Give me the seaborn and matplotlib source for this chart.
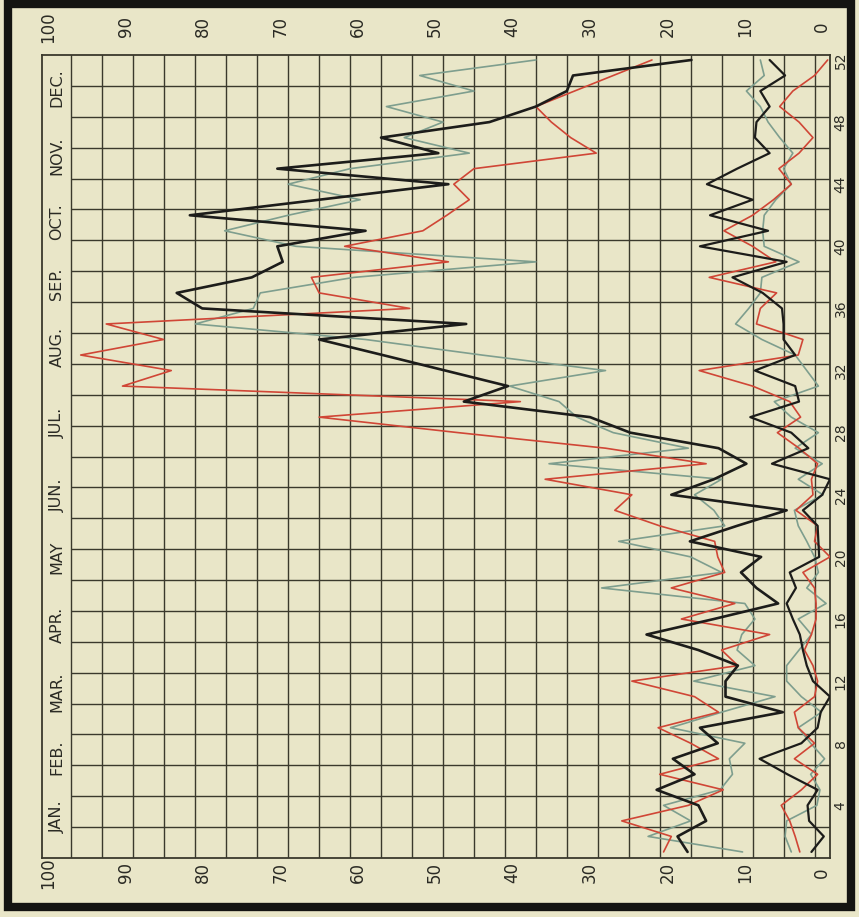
import matplotlib
matplotlib.use("Agg")
import matplotlib.pyplot as plt
import matplotlib.transforms as mtransforms
from matplotlib.patches import Rectangle
import seaborn as sns
import pandas as pd

# ---------------- data ----------------
weeks = list(range(1, 53))

upper_black = [18.4, 19.7, 16.0, 17.0, 22.4, 17.5, 20.3, 14.5, 16.8, 6.1,
               13.5, 13.5, 11.9, 17.0, 23.7, 15.0, 6.7, 9.5, 11.5, 8.9,
               18.1, 12.0, 5.6, 20.5, 15.0, 10.8, 14.4, 25.8, 31.0, 47.3,
               41.6, 49.7, 57.8, 66.0, 47.0, 81.1, 84.4, 74.7, 70.7, 71.4,
               60.0, 82.7, 66.0, 49.3, 71.4, 50.6, 58.0, 44.0, 38.0, 34.0,
               33.2, 17.9]
upper_red = [21.5, 20.5, 26.9, 18.3, 13.8, 22.0, 14.4, 18.0, 22.2, 14.4,
             17.5, 25.6, 11.9, 14.0, 7.8, 19.2, 12.3, 20.5, 13.6, 14.5,
             14.9, 22.0, 27.8, 25.6, 36.8, 16.0, 29.0, 48.0, 66.0, 40.0,
             91.4, 85.1, 96.8, 86.1, 93.5, 54.3, 66.0, 67.0, 49.3, 62.7,
             52.6, 49.5, 46.6, 48.6, 46.0, 30.2, 33.5, 36.0, 38.0, 33.0,
             28.0, 23.0]
upper_green = [11.3, 23.5, 18.0, 21.5, 14.2, 12.6, 13.0, 11.0, 20.6, 14.0,
               7.1, 17.6, 9.7, 12.0, 11.4, 9.7, 11.0, 29.5, 14.0, 18.0,
               27.3, 13.6, 15.0, 17.5, 14.0, 36.3, 18.3, 28.0, 32.7, 35.0,
               41.4, 29.0, 45.0, 60.0, 82.0, 74.5, 73.6, 61.5, 38.0, 69.0,
               78.2, 70.0, 60.7, 70.0, 62.0, 46.6, 55.0, 50.0, 57.3, 46.0,
               53.0, 38.0]
lower_black = [2.4, 0.8, 2.7, 2.9, 1.6, 5.5, 9.1, 3.7, 1.6, 1.2,
               0.0, 2.2, 3.0, 3.5, 3.9, 4.8, 5.6, 4.4, 5.2, 1.4,
               1.5, 1.6, 3.5, 1.0, 0.0, 7.5, 2.8, 5.0, 10.3, 4.0,
               4.5, 9.7, 4.5, 6.0, 6.0, 6.2, 8.7, 12.6, 5.6, 16.8,
               8.0, 15.5, 10.0, 15.9, 12.0, 7.8, 9.7, 9.5, 7.8, 9.0,
               5.8, 7.8]
lower_red = [3.9, 4.5, 5.2, 6.3, 3.7, 1.6, 4.6, 2.0, 4.1, 4.6,
             2.0, 1.6, 2.2, 3.3, 2.4, 1.8, 1.8, 2.0, 3.5, 0.0,
             2.0, 1.6, 4.4, 2.2, 2.4, 1.6, 4.0, 6.8, 3.8, 5.2,
             10.0, 16.9, 4.1, 3.5, 9.5, 9.0, 6.9, 15.6, 7.0, 10.0,
             13.7, 10.0, 7.3, 5.0, 6.6, 4.0, 2.2, 4.0, 6.5, 4.8,
             2.0, 0.3]
lower_green = [5.0, 5.8, 5.6, 1.7, 1.3, 2.5, 0.7, 2.5, 4.1, 1.1,
               3.7, 5.6, 5.6, 4.0, 2.4, 4.1, 0.5, 3.0, 1.5, 2.0,
               3.0, 4.1, 4.6, 0.9, 4.1, 1.0, 4.5, 1.5, 5.0, 7.2,
               1.5, 3.0, 4.5, 8.8, 12.2, 10.5, 9.0, 8.8, 4.0, 8.5,
               8.7, 8.5, 7.0, 5.0, 6.0, 4.8, 6.5, 8.0, 9.0, 10.8,
               8.5, 9.0]

value_ticks = [0, 10, 20, 30, 40, 50, 60, 70, 80, 90, 100]
week_ticks = [4, 8, 12, 16, 20, 24, 28, 32, 36, 40, 44, 48, 52]
months = ["JAN.", "FEB.", "MAR.", "APR.", "MAY", "JUN.", "JUL.", "AUG.",
          "SEP.", "OCT.", "NOV.", "DEC."]
month_pos = [3.3, 7.1, 11.3, 15.6, 20.0, 24.0, 28.6, 33.5, 37.6, 41.6, 45.8, 50.2]

# ---------------- style ----------------
sns.set_theme(style="white")
plt.rcParams['font.family'] = ['DejaVu Sans']

BG = '#e9e6c8'
GRID = '#3a392c'
TXT = '#2a2a24'
C_BLACK = '#1c1c1a'
C_RED = '#d04636'
C_GREEN = '#7e9e8e'

W, H = 859, 917
fig = plt.figure(figsize=(W / 100, H / 100), dpi=100, facecolor=BG)
ax = fig.add_axes([42 / W, (H - 858) / H, 788 / W, 803 / H])
ax.set_facecolor(BG)

XMAX = 101.8
YMIN, YMAX = 0.61, 52.32
ax.set_xlim(XMAX, 0)
ax.set_ylim(YMIN, YMAX)

# grid: columns of 4 units, rows of ~2 weeks
for v in range(2, 99, 4):
    ax.axvline(v, color=GRID, lw=1.0, zorder=1)
nrows = 26
step = (YMAX - YMIN) / nrows
for k in range(1, nrows):
    ax.hlines(YMIN + k * step, 0, 98, color=GRID, lw=1.0, zorder=1)

for s in ax.spines.values():
    s.set_color(GRID)
    s.set_linewidth(1.3)
ax.set_xticks([])
ax.set_yticks([])

df = pd.DataFrame({
    'week': weeks,
    'ub': upper_black, 'ur': upper_red, 'ug': upper_green,
    'lb': lower_black, 'lr': lower_red, 'lg': lower_green,
})

kw = dict(sort=False, estimator=None, ax=ax, legend=False)
sns.lineplot(data=df, x='ug', y='week', color=C_GREEN, lw=1.2, zorder=3, **kw)
sns.lineplot(data=df, x='lg', y='week', color=C_GREEN, lw=1.2, zorder=3, **kw)
sns.lineplot(data=df, x='ur', y='week', color=C_RED, lw=1.2, zorder=4, **kw)
sns.lineplot(data=df, x='lr', y='week', color=C_RED, lw=1.2, zorder=4, **kw)
sns.lineplot(data=df, x='ub', y='week', color=C_BLACK, lw=1.9, zorder=5, **kw)
sns.lineplot(data=df, x='lb', y='week', color=C_BLACK, lw=1.6, zorder=5, **kw)
ax.set_xlabel('')
ax.set_ylabel('')

# value labels (top and bottom)
tr_x = mtransforms.blended_transform_factory(ax.transData, ax.transAxes)
for L in value_ticks:
    ax.text(L + 1.0, 1.035, str(L), transform=tr_x, rotation=90,
            ha='center', va='center', fontsize=12, color=TXT, clip_on=False)
    ax.text(L + 1.0, -0.0185, str(L), transform=tr_x, rotation=90,
            ha='center', va='center', fontsize=12, color=TXT, clip_on=False)

# week labels on right
tr_y = mtransforms.blended_transform_factory(ax.transAxes, ax.transData)
for wk in week_ticks:
    ax.text(1.0135, wk, str(wk), transform=tr_y, rotation=90,
            ha='center', va='center', fontsize=10, color=TXT, clip_on=False)

# month labels in left strip
for m, p in zip(months, month_pos):
    ax.text(0.019, p, m, transform=tr_y, rotation=90,
            ha='center', va='center', fontsize=11.5, color=TXT, clip_on=False)

# outer thick frame
fig.add_artist(Rectangle((8 / W, (H - 907) / H), 843 / W, 903 / H,
                         transform=fig.transFigure, fill=False,
                         edgecolor='#141412', linewidth=6.0))

fig.savefig('out.png', dpi=100, facecolor=BG)
